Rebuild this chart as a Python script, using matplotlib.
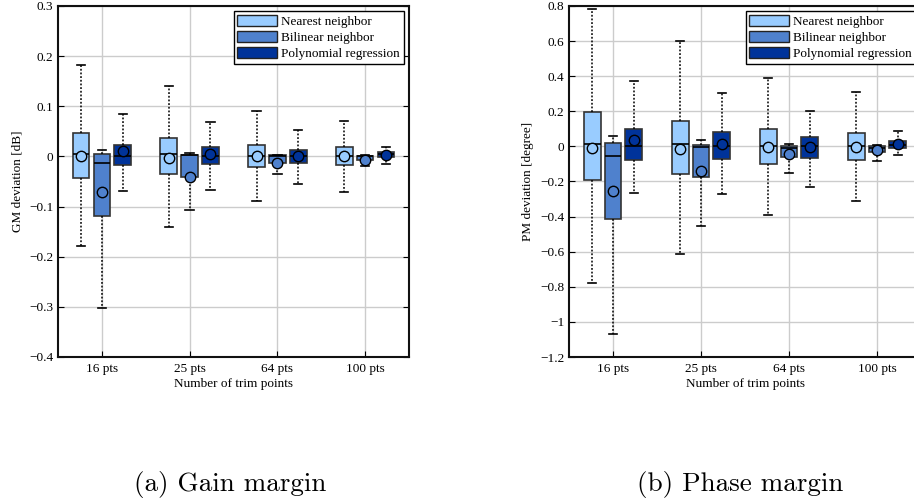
import matplotlib
matplotlib.use("Agg")
import matplotlib.pyplot as plt
from matplotlib.patches import Patch
from matplotlib.ticker import FuncFormatter, MultipleLocator

categories = ["16 pts", "25 pts", "64 pts", "100 pts"]
methods = ["Nearest neighbor", "Bilinear neighbor", "Polynomial regression"]
colors = ["#99CCFF", "#4F81CD", "#00339A"]

# Gain margin deviation [dB]  (per method: lists over categories)
gm_whislo = [[-0.179, -0.141, -0.089, -0.071],
             [-0.303, -0.107, -0.035, -0.019],
             [-0.069, -0.066, -0.054, -0.015]]
gm_q1 = [[-0.044, -0.035, -0.022, -0.018],
         [-0.119, -0.041, -0.013, -0.008],
         [-0.017, -0.015, -0.014, -0.002]]
gm_med = [[0.005, 0.004, 0.001, 0.001],
          [-0.013, 0.002, 0.001, 0.0],
          [0.0, 0.0, 0.0, 0.004]]
gm_q3 = [[0.047, 0.036, 0.023, 0.018],
         [0.005, 0.002, 0.002, 0.001],
         [0.023, 0.019, 0.013, 0.008]]
gm_whishi = [[0.183, 0.141, 0.090, 0.071],
             [0.013, 0.007, 0.003, 0.002],
             [0.084, 0.069, 0.053, 0.019]]
gm_mean = [[0.0, -0.003, 0.0, 0.0],
           [-0.071, -0.041, -0.013, -0.007],
           [0.011, 0.005, 0.0, 0.003]]

# Phase margin deviation [degree]
pm_whislo = [[-0.779, -0.613, -0.392, -0.312],
             [-1.067, -0.453, -0.149, -0.082],
             [-0.263, -0.274, -0.234, -0.048]]
pm_q1 = [[-0.194, -0.156, -0.099, -0.080],
         [-0.415, -0.177, -0.059, -0.032],
         [-0.080, -0.069, -0.065, -0.010]]
pm_med = [[0.015, 0.013, 0.002, 0.0],
          [-0.057, -0.006, -0.008, -0.010],
          [0.0, 0.0, 0.0, 0.010]]
pm_q3 = [[0.198, 0.147, 0.097, 0.078],
         [0.019, 0.008, 0.002, 0.002],
         [0.101, 0.080, 0.053, 0.029]]
pm_whishi = [[0.781, 0.602, 0.392, 0.309],
             [0.057, 0.034, 0.011, 0.006],
             [0.370, 0.303, 0.200, 0.088]]
pm_mean = [[-0.010, -0.017, -0.004, -0.004],
           [-0.255, -0.143, -0.046, -0.023],
           [0.034, 0.011, -0.004, 0.013]]

SERIF = ["Liberation Serif", "DejaVu Serif"]
plt.rcParams["font.family"] = SERIF
plt.rcParams["axes.unicode_minus"] = True

fig = plt.figure(figsize=(9.14, 5.0), dpi=100)

offsets = [-0.237, 0.0, 0.237]
width = 0.19


def fmt(v, pos):
    s = "%g" % round(v, 6)
    if s == "-0":
        s = "0"
    return s.replace("-", "\u2212")


def draw(ax, lo, q1, med, q3, hi, mean, ylim, ystep, ylabel):
    for m in range(3):
        stats = []
        for c in range(len(categories)):
            stats.append(dict(whislo=lo[m][c], q1=q1[m][c], med=med[m][c],
                              q3=q3[m][c], whishi=hi[m][c], mean=mean[m][c],
                              fliers=[]))
        pos = [c + 1 + offsets[m] for c in range(len(categories))]
        ax.bxp(stats, positions=pos, widths=width, showmeans=True,
               patch_artist=True, showfliers=False,
               boxprops=dict(facecolor=colors[m], edgecolor="#333333", linewidth=1.2),
               medianprops=dict(color="black", linewidth=1.2),
               whiskerprops=dict(color="black", linestyle=(0, (1.2, 1.2)), linewidth=1.1),
               capprops=dict(color="black", linewidth=1.2),
               meanprops=dict(marker="o", markerfacecolor=colors[m],
                              markeredgecolor="black", markersize=7.5,
                              markeredgewidth=1.0),
               zorder=3)
    ax.set_xlim(0.5, len(categories) + 0.5)
    ax.set_ylim(*ylim)
    ax.set_xticks(range(1, len(categories) + 1))
    ax.set_xticklabels(categories, fontsize=9.5)
    ax.yaxis.set_major_locator(MultipleLocator(ystep))
    ax.yaxis.set_major_formatter(FuncFormatter(fmt))
    ax.tick_params(axis="y", labelsize=9.5)
    ax.tick_params(direction="in", length=4, width=0.8, top=False, right=True,
                   colors="black")
    ax.tick_params(axis="x", pad=4.5)
    ax.grid(True, color="#cccccc", linewidth=1.0, zorder=0)
    ax.set_axisbelow(True)
    for s in ax.spines.values():
        s.set_linewidth(1.5)
        s.set_color("#111111")
    ax.set_xlabel("Number of trim points", fontsize=9.5, labelpad=2)
    ax.set_ylabel(ylabel, fontsize=9.5, labelpad=4)
    handles = [Patch(facecolor=colors[i], edgecolor="#222222", linewidth=1.0,
                     label=methods[i]) for i in range(3)]
    leg = ax.legend(handles=handles, loc="upper right", fontsize=9.5,
                    fancybox=False, framealpha=1, edgecolor="black",
                    handlelength=3.0, handleheight=0.85, borderpad=0.3,
                    labelspacing=0.25, handletextpad=0.3,
                    borderaxespad=0.4)
    leg.get_frame().set_linewidth(1.0)
    leg.set_zorder(5)


ax1 = fig.add_axes([58 / 914, 1 - 357 / 500, (409 - 58) / 914, (357 - 6) / 500])
draw(ax1, gm_whislo, gm_q1, gm_med, gm_q3, gm_whishi, gm_mean,
     (-0.4, 0.3), 0.1, "GM deviation [dB]")

ax2 = fig.add_axes([569 / 914, 1 - 357 / 500, (921 - 569) / 914, (357 - 6) / 500])
draw(ax2, pm_whislo, pm_q1, pm_med, pm_q3, pm_whishi, pm_mean,
     (-1.2, 0.8), 0.2, "PM deviation [degree]")

fig.text(230 / 914, 1 - 485 / 500, "(a) Gain margin", ha="center", va="center",
         fontsize=19.5, family=["cmr10", "DejaVu Serif"])
fig.text(740 / 914, 1 - 485 / 500, "(b) Phase margin", ha="center", va="center",
         fontsize=19.5, family=["cmr10", "DejaVu Serif"])

fig.savefig("out.png", dpi=100)
